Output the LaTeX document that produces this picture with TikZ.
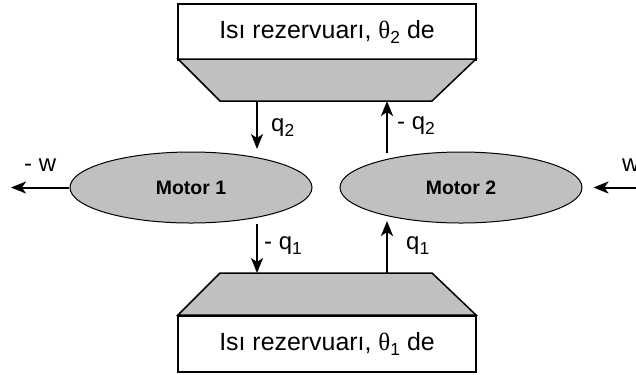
\documentclass[tikz,border=0pt]{standalone}
\usepackage{fontspec}
\setmainfont{Liberation Sans}
\newfontfamily\thetafont{Liberation Serif}
\usetikzlibrary{arrows.meta,shapes.geometric}
\definecolor{motorgray}{HTML}{C0C0C0}
\tikzset{
  reservoir/.style={draw, line width=1.5bp, rectangle, minimum width=298bp, minimum height=56bp,
    inner sep=0pt, font=\fontsize{25}{28}\selectfont},
  grayband/.style={draw, line width=1.5bp, fill=motorgray, line join=miter},
  motor/.style={draw, line width=1bp, ellipse, fill=motorgray, minimum width=242bp,
    minimum height=71bp, inner sep=0pt, font=\bfseries\fontsize{19.5}{22}\selectfont},
  flow/.style={line width=2bp, -{Stealth[length=15bp,width=12bp,inset=4bp]}},
  lbl/.style={font=\fontsize{24}{26}\selectfont, inner sep=0pt, anchor=west}
}
% lowered index in the style of the printed labels
\newcommand{\idx}[1]{{\fontsize{17.5}{17.5}\selectfont\raisebox{-5bp}{#1}}}
\newcommand{\thsub}[1]{{\thetafont θ}\idx{#1}}
\begin{document}
\begin{tikzpicture}[x=1bp,y=-1bp]
\useasboundingbox (0,0) rectangle (636,374);

% hot reservoir and its gray lower part
\node[reservoir] (hot) at (327,32) {Isı rezervuarı, \thsub{2} de};
\draw[grayband] (178,59) -- (476,59) -- (432,101) -- (220,101) -- cycle;
% cold reservoir and its gray upper part
\node[reservoir] (cold) at (327,344) {Isı rezervuarı, \thsub{1} de};
\draw[grayband] (220,273) -- (432,273) -- (476,315) -- (178,315) -- cycle;

% engines
\node[motor] (m1) at (191,187.5) {Motor 1};
\node[motor] (m2) at (461,187.5) {Motor 2};

% end points of the heat and work flows
\coordinate (h1) at (257,101);
\coordinate (m1t) at (257,149);
\coordinate (m1b) at (257,224);
\coordinate (c1) at (257,273);
\coordinate (h2) at (387,101);
\coordinate (m2t) at (387,153);
\coordinate (m2b) at (387,221);
\coordinate (c2) at (387,273);
\coordinate (wl) at (11,187.5);
\coordinate (wr) at (650,187.5);

\draw[flow] (h1) -- (m1t);
\draw[flow] (m1b) -- (c1);
\draw[flow] (m2t) -- (h2);
\draw[flow] (c2) -- (m2b);
\draw[flow] (m1.west) -- (wl);
\draw[flow] (wr) -- ([xshift=11bp]m2.east);

% labels
\node[lbl] (lq2a) at (271,128) {q\idx{2}};
\node[lbl] (lq2b) at (397,126) {- q\idx{2}};
\node[lbl] (lq1a) at (264,246) {- q\idx{1}};
\node[lbl] (lq1b) at (406,246) {q\idx{1}};
\node[lbl] (lwl) at (24,165) {- w};
\node[lbl] (lwr) at (622,165) {w};
\end{tikzpicture}
\end{document}
